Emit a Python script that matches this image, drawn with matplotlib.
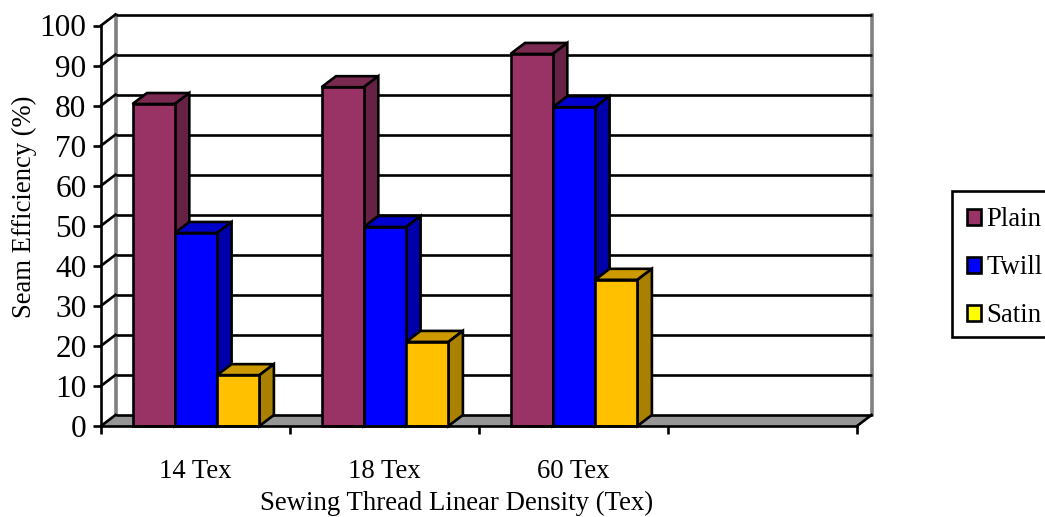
import matplotlib
matplotlib.use("Agg")
import matplotlib.pyplot as plt
from matplotlib.patches import Polygon, Patch, Rectangle

plt.rcParams['font.family'] = ['Liberation Serif', 'DejaVu Serif']

# values
categories = ['14 Tex', '18 Tex', '60 Tex', '']
series_names = ['Plain', 'Twill', 'Satin']
plain = [80.4, 84.6, 92.9]
twill = [48.2, 49.7, 79.6]
satin = [12.7, 21.0, 36.5]
y_ticks = list(range(0, 101, 10))

# style: front, top, side, legend colour
styles = [
    ('#993366', '#7A2951', '#662244', '#993366'),
    ('#0000FF', '#0000CC', '#0000AA', '#0000FF'),
    ('#FFC000', '#CC9900', '#AA8000', '#FFFF00'),
]

W, H = 1045, 517
fig = plt.figure(figsize=(W / 100, H / 100), dpi=100, facecolor='white')
ax = fig.add_axes([101 / W, 1 - 426 / H, 756 / W, 400.5 / H])
n = len(categories)
ax.set_xlim(0, n)
ax.set_ylim(0, 100)
ax.patch.set_visible(False)

# 3d look: depth offset in data units
dx = 14.5 / 189
dy = 11 / 4.005
line_w = 1.9

# floor
ax.add_patch(Polygon([(0, 0), (n, 0), (n + dx, dy), (dx, dy)], closed=True,
                     facecolor='#969696', edgecolor='none', clip_on=False, zorder=1))

# walls
ax.plot([dx, dx], [dy, 100 + dy], color='#808080', lw=2.6, clip_on=False, zorder=2)
ax.plot([n + dx, n + dx], [dy, 100 + dy], color='#808080', lw=2.6, clip_on=False, zorder=2)

# grid lines, back wall and left wall
for v in y_ticks:
    ax.plot([dx, n + dx], [v + dy, v + dy], color='black', lw=line_w, clip_on=False, zorder=3,
            solid_capstyle='butt')
    ax.plot([0, dx], [v, v + dy], color='black', lw=line_w, clip_on=False, zorder=3)
ax.plot([n, n + dx], [0, dy], color='black', lw=line_w, clip_on=False, zorder=3)

# bars
bar_w = 42.3 / 189
offset = 31.5 / 189
for i, vals in enumerate([plain, twill, satin]):
    front, top, side, _ = styles[i]
    for j, v in enumerate(vals):
        x0 = j + offset + i * bar_w
        x1 = x0 + bar_w
        z = 4 + i * 0.1 + j
        ax.add_patch(Polygon([(x0, 0), (x1, 0), (x1, v), (x0, v)], facecolor=front,
                             edgecolor='black', lw=line_w, clip_on=False, zorder=z + 0.02))
        ax.add_patch(Polygon([(x0, v), (x1, v), (x1 + dx, v + dy), (x0 + dx, v + dy)],
                             facecolor=top, edgecolor='black', lw=line_w, clip_on=False, zorder=z))
        ax.add_patch(Polygon([(x1, 0), (x1 + dx, dy), (x1 + dx, v + dy), (x1, v)],
                             facecolor=side, edgecolor='black', lw=line_w, clip_on=False, zorder=z))

# axes
for s in ['top', 'right']:
    ax.spines[s].set_visible(False)
for s in ['left', 'bottom']:
    ax.spines[s].set_linewidth(line_w)
    ax.spines[s].set_zorder(20)
ax.set_yticks(y_ticks)
ax.set_xticks(range(n + 1))
ax.set_xticklabels([])
ax.set_xticks([k + 0.5 for k in range(n)], labels=categories, minor=True)
ax.tick_params(axis='both', which='major', length=5.5, width=line_w, labelsize=22.5, color='black')
ax.tick_params(axis='y', pad=5)
ax.tick_params(axis='x', which='minor', length=0, labelsize=19.3, pad=24)
ax.set_ylabel('Seam Efficiency (%)', fontsize=19.2)
ax.yaxis.set_label_coords(-(101 - 37) / 756, (426 - 207) / 400.5, transform=ax.transAxes)
ax.set_xlabel('Sewing Thread Linear Density (Tex)', fontsize=19.3)
ax.xaxis.set_label_coords((457 - 101) / 756, -(503.5 - 426) / 400.5, transform=ax.transAxes)
ax.xaxis.label.set_va('center')

# legend, frame drawn apart so its height can be set
fig.add_artist(Rectangle((952 / W, 1 - 337 / H), 120 / W, 146 / H, transform=fig.transFigure,
                         facecolor='white', edgecolor='black', lw=line_w))
handles = [Patch(facecolor=st[3], edgecolor='black', lw=line_w) for st in styles]
leg = fig.legend(handles, series_names, loc='upper left',
                 bbox_to_anchor=(952 / W, 1 - 192.5 / H), borderaxespad=0, fontsize=19.3,
                 fancybox=False, frameon=False,
                 handlelength=0.52, handleheight=0.52, handletextpad=0.22,
                 labelspacing=0.86, borderpad=0.55)

fig.savefig('out.png', dpi=100)
